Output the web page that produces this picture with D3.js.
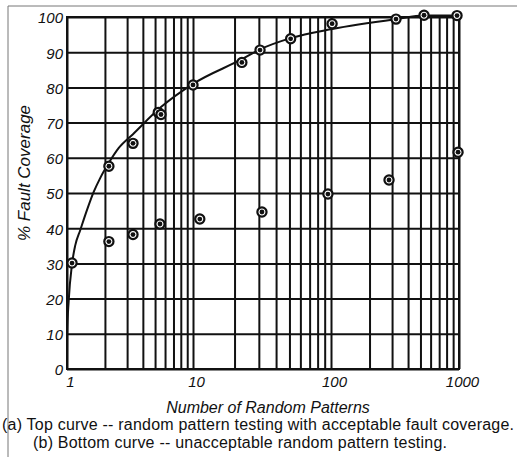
<!DOCTYPE html>
<html>
<head>
<meta charset="utf-8">
<script src="https://cdn.jsdelivr.net/npm/d3@7"></script>
<style>
  body { margin: 0; background: #fff; }
  svg text { font-family: "Liberation Sans", Arial, sans-serif; fill: #111; }
</style>
</head>
<body>
<div id="container"></div>
<script>
/* DATA */
// top curve: measured points (a)
const topPoints = [
  [1.096, 30.1], [2.15, 57.6], [3.34, 64.1], [5.3, 72.9], [5.57, 72.3],
  [10, 80.7], [22.6, 87.1], [30.6, 90.6], [51, 93.8], [102, 98.1],
  [322, 99.4], [533, 100.5], [965, 100.4]
];
// bottom curve: measured points (b)
const bottomPoints = [
  [2.15, 36.2], [3.34, 38.2], [5.47, 41.2], [11.2, 42.6], [31.6, 44.6],
  [95, 49.7], [284, 53.7], [983, 61.6]
];
// hand drawn fit through the top points
const fitCurve = [
  [1, 0], [1.003, 10], [1.031, 19.3], [1.096, 29.8], [1.164, 35.2],
  [1.275, 39.5], [1.442, 45.2], [1.629, 50.3], [1.838, 54.3], [2.143, 58.5],
  [2.576, 62.8], [3.34, 66.7], [5.57, 74.4], [10, 81], [22.6, 88], [30.6, 90.8],
  [51, 94], [102, 96.6], [322, 99.4], [533, 100.4], [1000, 100.4]
];
const xTickLabels = [1, 10, 100, 1000];
const yTickLabels = [0, 10, 20, 30, 40, 50, 60, 70, 80, 90, 100];
const xGridValues = [];
[1, 10, 100].forEach(dec => d3.range(1, 10).forEach(m => xGridValues.push(dec * m)));
xGridValues.push(1000);

/* LAYOUT */
const width = 517, height = 457;
const plot = { left: 67, right: 459, top: 17, bottom: 369 };

// the printed log grid is a little uneven, so each decade gets its own span
const xScale = d3.scaleLog()
  .domain([1, 10, 100, 1000])
  .range([plot.left, 193, 331, plot.right]);

const yScale = d3.scaleLinear()
  .domain([0, 100])
  .range([plot.bottom, plot.top]);

const svg = d3.select("#container")
  .append("svg")
  .attr("width", width)
  .attr("height", height);

svg.append("rect").attr("width", width).attr("height", height).attr("fill", "#fff");

// scan border
svg.append("path")
  .attr("d", `M8,${height} V6 H${width}`)
  .attr("fill", "none")
  .attr("stroke", "#777")
  .attr("stroke-width", 1);

// vertical grid
svg.append("g")
  .attr("transform", `translate(0, ${plot.bottom})`)
  .call(d3.axisBottom(xScale).tickValues(xGridValues).tickSize(-(plot.bottom - plot.top)).tickFormat(""))
  .call(g => g.select(".domain").remove())
  .call(g => g.selectAll("line").attr("stroke", "#111").attr("stroke-width", 2));

// horizontal grid
svg.append("g")
  .attr("transform", `translate(${plot.left}, 0)`)
  .call(d3.axisLeft(yScale).tickValues(yTickLabels).tickSize(-(plot.right - plot.left)).tickFormat(""))
  .call(g => g.select(".domain").remove())
  .call(g => g.selectAll("line").attr("stroke", "#111").attr("stroke-width", 2));

// frame
svg.append("rect")
  .attr("x", plot.left).attr("y", plot.top)
  .attr("width", plot.right - plot.left).attr("height", plot.bottom - plot.top)
  .attr("fill", "none").attr("stroke", "#111").attr("stroke-width", 2);

// tick labels
svg.append("g")
  .attr("transform", `translate(3, ${plot.bottom})`)
  .call(d3.axisBottom(xScale).tickValues(xTickLabels).tickSize(0).tickPadding(7).tickFormat(d3.format("d")))
  .call(g => g.select(".domain").remove())
  .call(g => g.selectAll("text")
    .attr("font-size", 15).attr("font-style", "italic")
    .attr("font-family", "Liberation Sans, Arial, sans-serif").attr("fill", "#111"));

svg.append("g")
  .attr("transform", `translate(${plot.left - 4}, 1)`)
  .call(d3.axisLeft(yScale).tickValues(yTickLabels).tickSize(0).tickPadding(0))
  .call(g => g.select(".domain").remove())
  .call(g => g.selectAll("text")
    .attr("font-size", 15).attr("font-style", "italic")
    .attr("font-family", "Liberation Sans, Arial, sans-serif").attr("fill", "#111"));

// axis titles
svg.append("text")
  .attr("transform", `translate(30, 173) rotate(-90)`)
  .attr("text-anchor", "middle")
  .attr("font-size", 17)
  .attr("font-style", "italic")
  .text("% Fault Coverage");

svg.append("text")
  .attr("x", 268).attr("y", 413)
  .attr("text-anchor", "middle")
  .attr("font-size", 16)
  .attr("font-style", "italic")
  .text("Number of Random Patterns");

// captions
svg.append("text")
  .attr("x", 2).attr("y", 430)
  .attr("font-size", 16)
  .attr("textLength", 512)
  .text("(a) Top curve -- random pattern testing with acceptable fault coverage.");

svg.append("text")
  .attr("x", 33).attr("y", 448)
  .attr("font-size", 16)
  .attr("textLength", 414)
  .text("(b) Bottom curve -- unacceptable random pattern testing.");

// fitted top curve
const line = d3.line()
  .x(d => xScale(d[0]))
  .y(d => yScale(d[1]))
  .curve(d3.curveMonotoneX);

svg.append("path")
  .datum(fitCurve)
  .attr("fill", "none")
  .attr("stroke", "#111")
  .attr("stroke-width", 2)
  .attr("d", line);

// markers
const markers = svg.append("g")
  .selectAll("g.marker")
  .data(topPoints.concat(bottomPoints))
  .join("g")
  .attr("class", "marker")
  .attr("transform", d => `translate(${xScale(d[0])}, ${yScale(d[1])})`);

markers.append("circle")
  .attr("r", 4.6)
  .attr("fill", "#fff")
  .attr("stroke", "#111")
  .attr("stroke-width", 2.2);

markers.append("circle")
  .attr("r", 2.4)
  .attr("fill", "#111");
</script>
</body>
</html>
